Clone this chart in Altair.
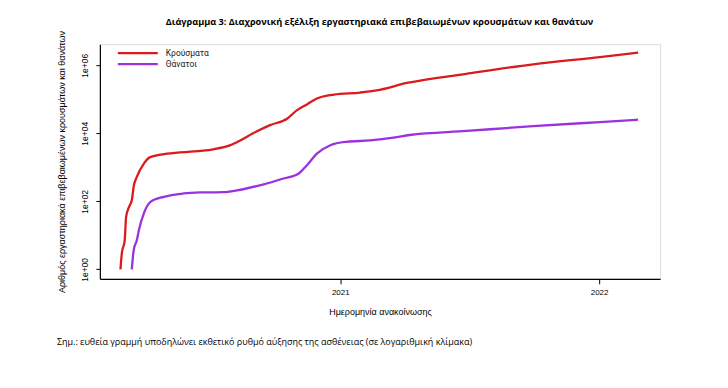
import altair as alt
import pandas as pd

cases_dates = ["2020-02-26", "2020-02-28", "2020-03-03", "2020-03-05", "2020-03-09", "2020-03-13",
               "2020-03-16", "2020-03-20", "2020-03-30", "2020-04-08", "2020-05-02", "2020-06-18",
               "2020-07-06", "2020-07-30", "2020-08-13", "2020-08-31", "2020-09-24", "2020-10-18",
               "2020-11-01", "2020-11-15", "2020-11-29", "2020-12-23", "2021-01-29", "2021-02-21",
               "2021-04-05", "2021-06-28", "2021-09-30", "2022-01-02", "2022-02-25"]
cases_values = [1, 3, 7, 35, 68, 107, 295, 513, 1290, 2000, 2510, 3020,
                3390, 4470, 6170, 10000, 17400, 26900, 47900, 70800, 105000, 138000, 158000, 182000,
                302000, 562000, 1070000, 1740000, 2340000]

deaths_dates = ["2020-03-13", "2020-03-16", "2020-03-20", "2020-03-23", "2020-03-30", "2020-04-08",
                "2020-04-27", "2020-05-25", "2020-06-18", "2020-07-20", "2020-08-08", "2020-09-15",
                "2020-10-13", "2020-11-03", "2020-11-15", "2020-11-29", "2020-12-18", "2021-01-10",
                "2021-02-12", "2021-03-17", "2021-04-09", "2021-06-28", "2021-09-30", "2022-01-02",
                "2022-02-25"]
deaths_values = [1, 4, 7, 14, 44, 95, 135, 170, 182, 186, 209, 316,
                 468, 646, 1150, 2510, 4470, 5620, 6170, 7410, 8910, 11700, 16200, 21400,
                 25100]

series_names = ["Κρούσματα", "Θάνατοι"]
series_colors = ["#dc1a1c", "#9a32e0"]

title_text = "Διάγραμμα 3: Διαχρονική εξέλιξη εργαστηριακά επιβεβαιωμένων κρουσμάτων και θανάτων"
note_text = "Σημ.: ευθεία γραμμή υποδηλώνει εκθετικό ρυθμό αύξησης της ασθένειας (σε λογαριθμική κλίμακα)"

df = pd.concat([
    pd.DataFrame({"date": cases_dates, "value": cases_values, "series": series_names[0]}),
    pd.DataFrame({"date": deaths_dates, "value": deaths_values, "series": series_names[1]}),
])

legend_df = pd.DataFrame({"series": series_names, "order": [0, 1]})

axis_font = "Liberation Sans"
color_scale = alt.Scale(domain=series_names, range=series_colors)
legend_y = alt.Y("order:Q", scale=alt.Scale(domain=[0, 1], range=[9, 20]), axis=None)

lines = alt.Chart(df).mark_line(strokeWidth=2.3, clip=True, interpolate="monotone").encode(
    x=alt.X("date:T",
            scale=alt.Scale(domain=["2020-01-28", "2022-03-28"]),
            axis=alt.Axis(title="Ημερομηνία ανακοίνωσης",
                          values=["2021-01-01T00:00:00", "2022-01-01T00:00:00"],
                          format="%Y", grid=False, tickSize=5, tickColor="#000",
                          domainColor="#000", domainWidth=1.2,
                          labelFont=axis_font, labelFontSize=8, labelColor="#000",
                          labelPadding=5,
                          titleFont=axis_font, titleFontSize=9, titleFontWeight="normal",
                          titleColor="#000", titlePadding=11)),
    y=alt.Y("value:Q",
            scale=alt.Scale(type="log", domain=[10 ** -0.28, 10 ** 6.62], nice=False),
            axis=alt.Axis(title="Αριθμός εργαστηριακά επιβεβαιωμένων κρουσμάτων και θανάτων",
                          values=[1, 100, 10000, 1000000],
                          labelExpr="'1e+0' + round(log(datum.value)/LN10)",
                          grid=False, tickSize=4, tickColor="#000",
                          domainColor="#000", domainWidth=1.2,
                          labelAngle=270, labelAlign="center", labelBaseline="bottom",
                          labelFont=axis_font, labelFontSize=8.5, labelColor="#000",
                          labelPadding=6,
                          titleFont=axis_font, titleFontSize=9, titleFontWeight="normal",
                          titleColor="#000", titlePadding=14)),
    color=alt.Color("series:N", scale=color_scale, legend=None),
    detail="series:N",
)

legend_lines = alt.Chart(legend_df).mark_rule(strokeWidth=2.3).encode(
    x=alt.value(18), x2=alt.value(58),
    y=legend_y,
    color=alt.Color("series:N", scale=color_scale, legend=None),
)
legend_text = alt.Chart(legend_df).mark_text(align="left", baseline="middle", fontSize=8.5,
                                             font="Roboto", color="#222").encode(
    x=alt.value(66),
    y=legend_y,
    text="series:N",
)

title = alt.Chart(pd.DataFrame({"t": [title_text]})).mark_text(
    align="center", baseline="middle", fontSize=9.2, fontWeight="bold", font="Open Sans",
    color="#000"
).encode(x=alt.value(280), y=alt.value(-22), text="t:N")

note = alt.Chart(pd.DataFrame({"t": [note_text]})).mark_text(
    align="left", baseline="middle", fontSize=9, font="Open Sans", color="#000"
).encode(x=alt.value(-43), y=alt.value(298), text="t:N")

chart = alt.layer(lines, legend_lines, legend_text, title, note).resolve_scale(
    y="independent"
).properties(
    width=561, height=235,
    autosize=alt.AutoSizeParams(type="none"),
    padding={"left": 92, "top": 36, "right": 60, "bottom": 70},
).configure_view(stroke=None).configure(background="white")

chart.save("out.html", embed_options={"renderer": "svg", "actions": False})
